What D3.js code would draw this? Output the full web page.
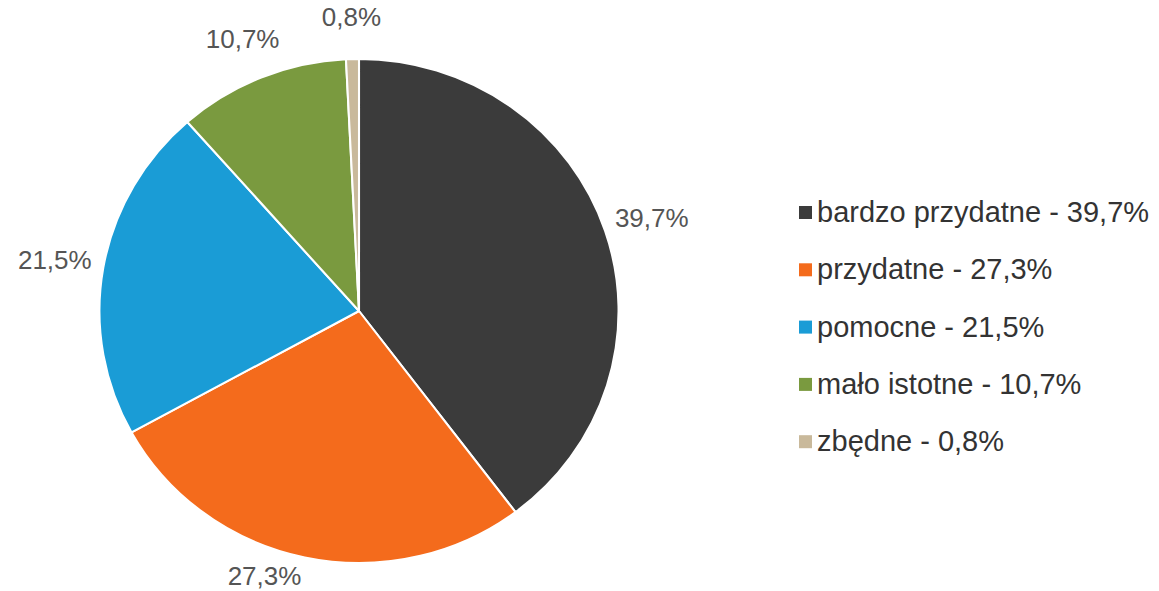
<!DOCTYPE html>
<html lang="pl">
  <head>
    <meta charset="utf-8">
    <title>Ocena przydatności</title>
    <script src="https://cdn.jsdelivr.net/npm/d3@7"></script>
    <style>
      body { margin: 0; background: #fff; }
      svg { font-family: Arial, "Liberation Sans", sans-serif; }
    </style>
  </head>
  <body>
    <svg width="1159" height="591"></svg>
    <script>

      // data
      var categories = ["bardzo przydatne", "przydatne", "pomocne", "mało istotne", "zbędne"];
      var values = [39.7, 27.3, 21.5, 10.7, 0.8];
      var colors = ["#3b3b3b", "#f46b1c", "#1a9cd6", "#7a9a3f", "#c9b99b"];

      var svg = d3.select("svg"),
          W = +svg.attr("width"),
          H = +svg.attr("height");

      var cx = 359, cy = 311,
          radius = 252,
          stretch = 1.03;   // the original pie is a touch wider than tall

      var fmt = function(v) { return d3.format(".1f")(v).replace(".", ",") + "%"; };

      var pie = d3.pie().sort(null).value(function(d) { return d; });
      var arcs = pie(values);

      var arc = d3.arc().innerRadius(0).outerRadius(radius);

      var g = svg.append("g")
          .attr("transform", "translate(" + cx + "," + cy + ") scale(" + stretch + ",1)");

      g.selectAll("path")
        .data(arcs)
        .enter().append("path")
          .attr("d", arc)
          .attr("fill", function(d, i) { return colors[i]; })
          .attr("stroke", "#fff")
          .attr("stroke-width", 2)
          .attr("stroke-linejoin", "round");

      // outside labels: box pushed outward from a point just past the rim,
      // kept inside the picture
      var labelR = radius + 12;
      var labels = svg.append("g").attr("transform", "translate(" + cx + "," + cy + ")");

      labels.selectAll("text")
        .data(arcs)
        .enter().append("text")
          .attr("font-size", 26)
          .attr("fill", "#555")
          .attr("text-anchor", "middle")
          .attr("dominant-baseline", "central")
          .text(function(d) { return fmt(d.value); })
          .each(function(d) {
            var a = (d.startAngle + d.endAngle) / 2,
                bb = this.getBBox(),
                x = Math.sin(a) * labelR * stretch + Math.sin(a) * bb.width / 2,
                y = -Math.cos(a) * labelR - Math.cos(a) * bb.height;
            y = Math.max(-cy + bb.height / 2, Math.min(H - cy - bb.height / 2, y));
            if (y === H - cy - bb.height / 2) x -= 30;
            d3.select(this).attr("x", x).attr("y", y);
          });

      // legend
      var legend = svg.append("g").attr("transform", "translate(799,211)");

      var item = legend.selectAll("g")
        .data(categories)
        .enter().append("g")
          .attr("transform", function(d, i) { return "translate(0," + i * 57.3 + ")"; });

      item.append("rect")
          .attr("x", 0)
          .attr("y", -5)
          .attr("width", 13)
          .attr("height", 13)
          .attr("fill", function(d, i) { return colors[i]; });

      item.append("text")
          .attr("x", 18)
          .attr("y", 1)
          .attr("dominant-baseline", "central")
          .attr("font-size", 29)
          .attr("fill", "#333")
          .text(function(d, i) { return d + " - " + fmt(values[i]); });

    </script>
  </body>
</html>
